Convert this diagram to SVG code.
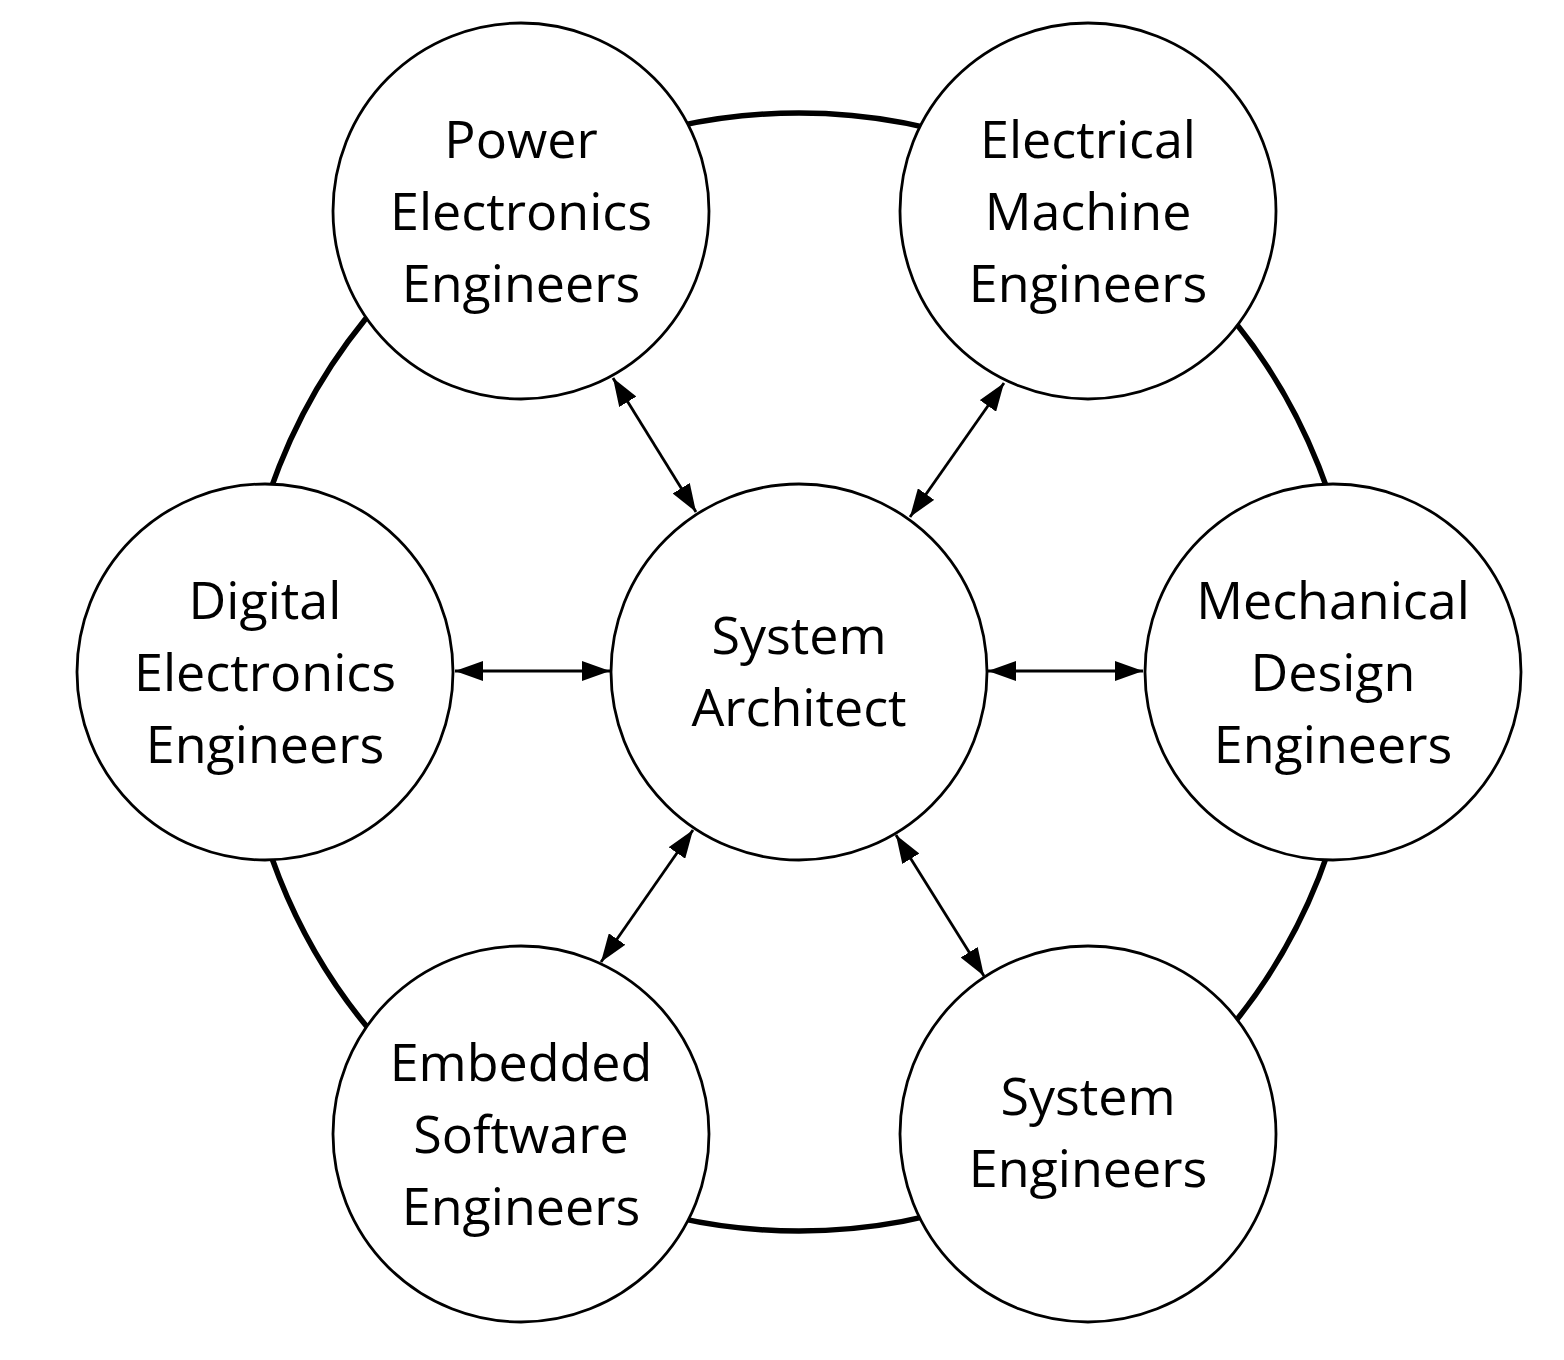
<svg xmlns="http://www.w3.org/2000/svg" width="1564" height="1360" viewBox="0 0 1564 1360">
<style>
.node{fill:#fff;stroke:#000;stroke-width:2.8}
.ring{fill:none;stroke:#000;stroke-width:5.5}
.lbl{font-family:"Open Sans","Liberation Sans",sans-serif;font-size:52px;fill:#000;text-anchor:middle}
.conn{stroke:#000;stroke-width:2.8;fill:none;marker-start:url(#ah);marker-end:url(#ah)}
</style>
<defs>
<marker id="ah" markerUnits="userSpaceOnUse" markerWidth="28" markerHeight="20" refX="28" refY="10" orient="auto-start-reverse" viewBox="0 0 28 20">
<path d="M0,0 L28,10 L0,20 z" fill="#000"/>
</marker>
</defs>
<rect width="1564" height="1360" fill="#fff"/>
<circle class="ring" cx="799" cy="672" r="559"/>
<g id="connectors">
<line class="conn" x1="613" y1="378" x2="696" y2="512"/>
<line class="conn" x1="1004" y1="383" x2="910" y2="517"/>
<line class="conn" x1="455" y1="671" x2="610" y2="671"/>
<line class="conn" x1="988" y1="671" x2="1143" y2="671"/>
<line class="conn" x1="693" y1="830" x2="601" y2="962"/>
<line class="conn" x1="896" y1="835" x2="984" y2="976"/>
</g>
<g id="system-architect">
<circle class="node" cx="799" cy="672" r="188"/>
<text class="lbl" x="799" y="654">System</text>
<text class="lbl" x="799" y="726">Architect</text>
</g>
<g id="power-electronics">
<circle class="node" cx="521" cy="211" r="188"/>
<text class="lbl" x="521" y="158">Power</text>
<text class="lbl" x="521" y="230">Electronics</text>
<text class="lbl" x="521" y="302">Engineers</text>
</g>
<g id="electrical-machine">
<circle class="node" cx="1088" cy="211" r="188"/>
<text class="lbl" x="1088" y="158">Electrical</text>
<text class="lbl" x="1088" y="230">Machine</text>
<text class="lbl" x="1088" y="302">Engineers</text>
</g>
<g id="digital-electronics">
<circle class="node" cx="265" cy="672" r="188"/>
<text class="lbl" x="265" y="619">Digital</text>
<text class="lbl" x="265" y="691">Electronics</text>
<text class="lbl" x="265" y="763">Engineers</text>
</g>
<g id="mechanical-design">
<circle class="node" cx="1333" cy="672" r="188"/>
<text class="lbl" x="1333" y="619">Mechanical</text>
<text class="lbl" x="1333" y="691">Design</text>
<text class="lbl" x="1333" y="763">Engineers</text>
</g>
<g id="embedded-software">
<circle class="node" cx="521" cy="1134" r="188"/>
<text class="lbl" x="521" y="1081">Embedded</text>
<text class="lbl" x="521" y="1153">Software</text>
<text class="lbl" x="521" y="1225">Engineers</text>
</g>
<g id="system-engineers">
<circle class="node" cx="1088" cy="1134" r="188"/>
<text class="lbl" x="1088" y="1115">System</text>
<text class="lbl" x="1088" y="1187">Engineers</text>
</g>
</svg>
